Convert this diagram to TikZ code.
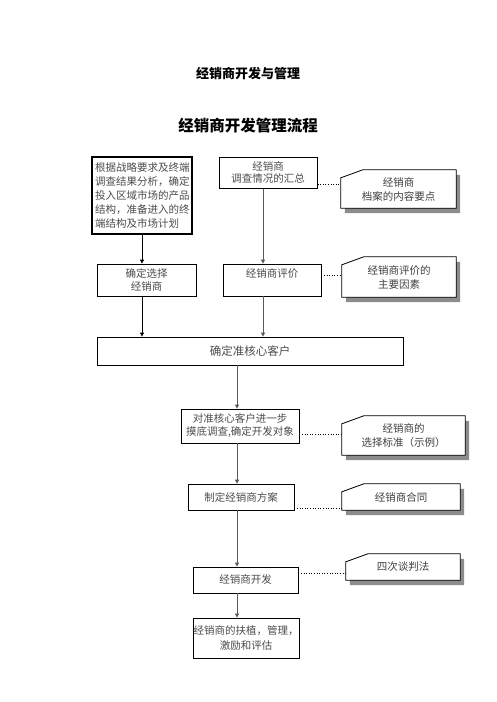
\documentclass[tikz,border=0pt]{standalone}
\usepackage{fontspec}
\newfontfamily\cjk{Noto Sans CJK SC}
\usetikzlibrary{calc}
\usetikzlibrary{positioning}
\usetikzlibrary{arrows.meta, backgrounds}

\tikzset{
  flowbox/.style={draw=black, line width=0.8pt, fill=white, inner sep=0pt, align=center, text=black!70,
    font=\cjk\fontsize{10.5}{13}\selectfont},
  notebox/.style={inner sep=0pt, align=center, text=black!75, font=\cjk\fontsize{10.5}{14}\selectfont},
  blackarrow/.style={draw=black, line width=0.8pt, -{Triangle[length=4pt,width=4pt]}},
  grayarrow/.style={draw=black!65, line width=1pt, -{Triangle[length=4pt,width=4pt]}},
  dotlink/.style={draw=black, line width=0.6pt, dotted},
}

\begin{document}
\begin{tikzpicture}[x=1pt,y=1pt,yscale=-1,xscale=1]
            \useasboundingbox (0,0) rectangle (496,702);

            % Text Node
            \node (title) at (248,74) [font=\cjk\bfseries\fontsize{13}{15}\selectfont] {经销商开发与管理};
            % Text Node
            \node (subtitle) at (248,126) [font=\cjk\bfseries\fontsize{15.5}{18}\selectfont] {经销商开发管理流程};

            %Shape: Boxes
            \node (A) at (142,195.5) [flowbox, line width=1.2pt, minimum width=100, minimum height=77, text width=94, align=left,
              font=\cjk\fontsize{10.5}{14}\selectfont]
              {根据战略要求及终端\\调查结果分析，确定\\投入区域市场的产品\\结构，准备进入的终\\端结构及市场计划};
            \node (B) at (268,172.5) [flowbox, line width=1pt, minimum width=98, minimum height=31,
              font=\cjk\fontsize{10.5}{12}\selectfont] {经销商\\调查情况的汇总};
            \node (C) at (146.5,280) [flowbox, minimum width=99, minimum height=32] {确定选择\\经销商};
            \node (D) at (272,280) [flowbox, minimum width=98, minimum height=32] {经销商评价\\\phantom{经}};
            \node (E) at (250,351) [flowbox, minimum width=306, minimum height=28,
              font=\cjk\fontsize{11.5}{13}\selectfont] {确定准核心客户};
            \node (F) at (240,426) [flowbox, minimum width=118, minimum height=34] {对准核心客户进一步\\摸底调查,确定开发对象};
            \node (G) at (241,497) [flowbox, minimum width=106, minimum height=26] {制定经销商方案};
            \node (H) at (245.5,580) [flowbox, minimum width=105, minimum height=26] {经销商开发};
            \node (I) at (246,638) [flowbox, minimum width=106, minimum height=40,
              font=\cjk\fontsize{10.5}{15}\selectfont] {经销商的扶植，管理，\\激励和评估};

            %Shape: Callouts
            \node (c1) at (398.5,189) [notebox, minimum width=115, minimum height=38] {经销商\\档案的内容要点};
            \node (c2) at (399,277) [notebox, minimum width=114, minimum height=40] {经销商评价的\\主要因素};
            \node (c3) at (403.5,435.5) [notebox, minimum width=123, minimum height=39] {经销商的\\选择标准（示例）};
            \node (c4) at (401,497) [notebox, minimum width=118, minimum height=26] {经销商合同};
            \node (c5) at (403,567) [notebox, minimum width=114, minimum height=26] {四次谈判法};

            \begin{scope}[on background layer]
            \foreach \c in {c1,c2,c3,c4,c5}{
              \fill[black!45] ([xshift=4pt,yshift=13pt]\c.north west) -- ([xshift=26pt,yshift=5pt]\c.north west)
                -- ([xshift=4pt,yshift=5pt]\c.north east) -- ([xshift=4pt,yshift=5pt]\c.south east)
                -- ([xshift=4pt,yshift=5pt]\c.south west) -- cycle;
              \draw[fill=white, line width=0.8pt] ([yshift=8pt]\c.north west) -- ([xshift=22pt]\c.north west)
                -- (\c.north east) -- (\c.south east) -- (\c.south west) -- cycle;
            }
            \end{scope}

            %Straight Lines
            \coordinate (colB) at ([xshift=-5pt]B.south);
            \coordinate (spine) at ([xshift=-13pt]E.south);
            \draw[blackarrow] (A.south) -- (A.south |- C.north);
            \draw[blackarrow] (C.south -| A.south) -- (A.south |- E.north);
            \draw[grayarrow] (colB) -- (colB |- D.north);
            \draw[grayarrow] (D.south -| colB) -- (colB |- E.north);
            \draw[grayarrow] (spine) -- (spine |- F.north);
            \draw[grayarrow] (F.south -| spine) -- (spine |- G.north);
            \draw[grayarrow] (G.south -| spine) -- (spine |- H.north);
            \draw[grayarrow] (H.south -| spine) -- (spine |- I.north);

            %Dotted Lines
            \draw[dotlink] ([yshift=-4pt]B.south east) -- ([yshift=-4pt]B.south east -| c1.west);
            \draw[dotlink] ([yshift=-5pt]D.east) -- ([yshift=-5pt]D.east -| c2.west);
            \draw[dotlink] ([yshift=8pt]F.east) -- ([yshift=8pt]F.east -| c3.west);
            \draw[dotlink] ([yshift=-2pt]G.south east) -- ([yshift=-2pt]G.south east -| c4.west);
            \draw[dotlink] ([yshift=-7pt]H.east) -- ([yshift=-7pt]H.east -| c5.west);

        \end{tikzpicture}
\end{document}
